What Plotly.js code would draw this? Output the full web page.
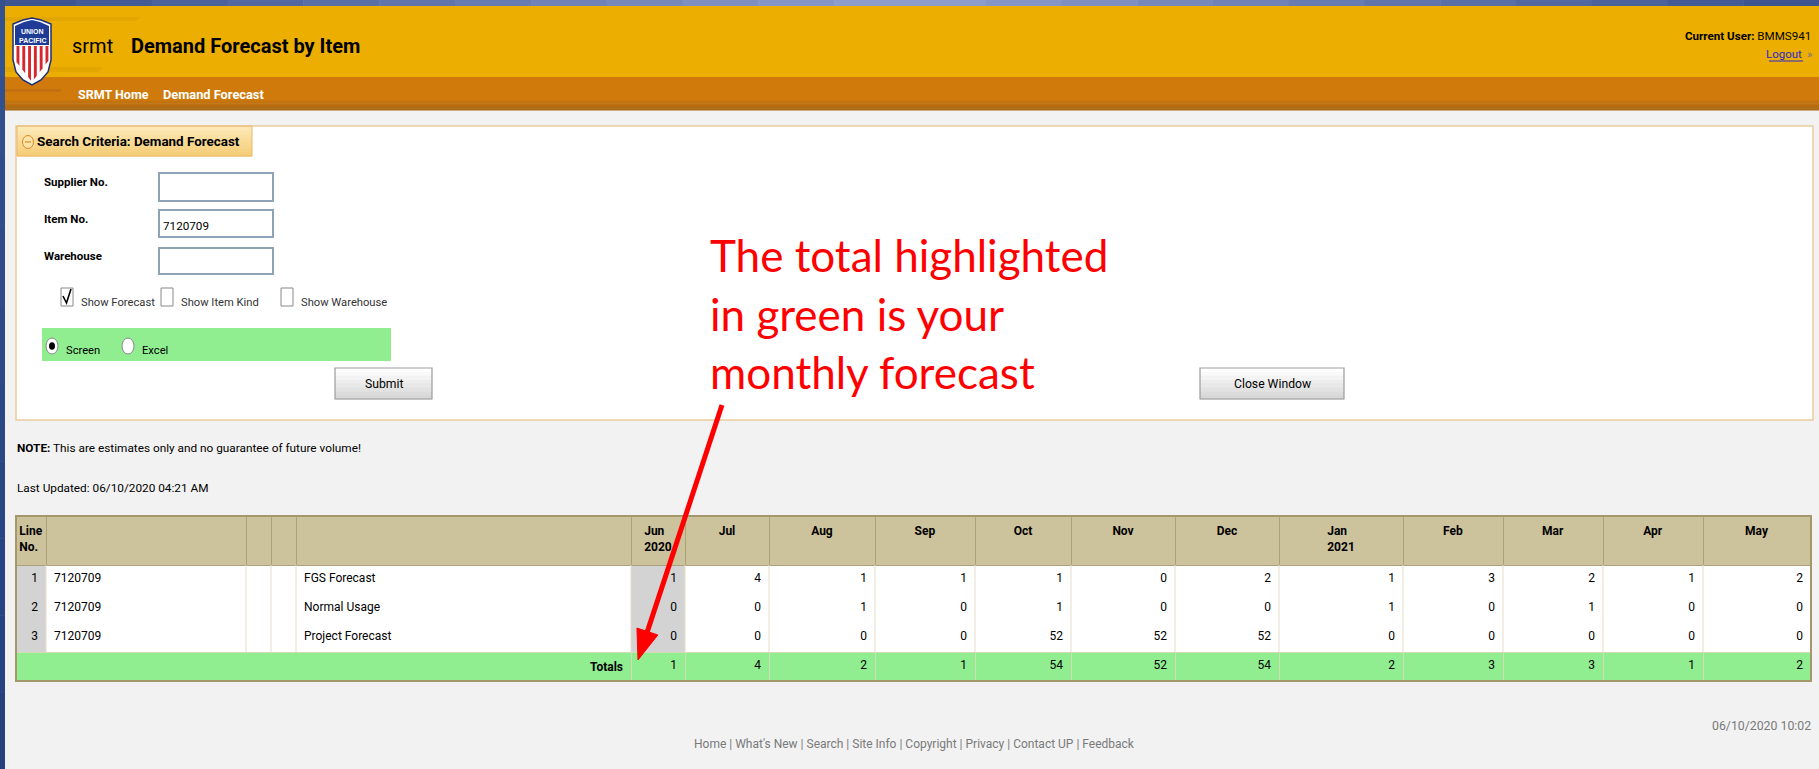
<!DOCTYPE html>
<html>
<head>
<meta charset="utf-8">
<script src="https://cdn.plot.ly/plotly-3.0.1.min.js"></script>
<style>html,body{margin:0;padding:0;background:#F2F2F2;overflow:hidden}#chart{width:1819px;height:769px}</style>
</head>
<body>
<div id="chart"></div>
<script>
// ---------------- data ----------------
const monthHeaders = ["Jun<br>2020","Jul","Aug","Sep","Oct","Nov","Dec","Jan<br>2021","Feb","Mar","Apr","May"];
const lineNos = [1, 2, 3];
const itemNos = ["7120709", "7120709", "7120709"];
const rowLabels = ["FGS Forecast", "Normal Usage", "Project Forecast"];
const fgsForecast     = [1, 4, 1, 1, 1, 0, 2, 1, 3, 2, 1, 2];
const normalUsage     = [0, 0, 1, 0, 1, 0, 0, 1, 0, 1, 0, 0];
const projectForecast = [0, 0, 0, 0, 52, 52, 52, 0, 0, 0, 0, 0];
const totals          = [1, 4, 2, 1, 54, 52, 54, 2, 3, 3, 1, 2];
const searchLabels = ["Supplier No.", "Item No.", "Warehouse"];
const searchValues = ["", "7120709", ""];
const footerLinks = ["Home", "What's New", "Search", "Site Info", "Copyright", "Privacy", "Contact UP", "Feedback"];

// ---------------- layout helpers ----------------
const W = 1819, H = 769;
const X = p => p / W, Y = p => 1 - p / H;
const FONT = "Roboto, 'Liberation Sans', sans-serif";
const shapes = [], ann = [];
function R(x0, y0, x1, y1, fill, lc, lw, layer) {
  shapes.push({type:'rect', xref:'paper', yref:'paper', x0:X(x0), x1:X(x1), y0:Y(y1), y1:Y(y0),
    fillcolor: fill || 'rgba(0,0,0,0)', line:{color: lc || 'rgba(0,0,0,0)', width: lw || 0}, layer: layer || 'below'});
}
function P(pts, fill, lc, lw, layer, closed) {
  let d = pts.map((p, i) => (i ? 'L' : 'M') + X(p[0]).toFixed(5) + ',' + Y(p[1]).toFixed(5)).join(' ');
  if (closed !== false) d += ' Z';
  shapes.push({type:'path', xref:'paper', yref:'paper', path:d, fillcolor: fill || 'rgba(0,0,0,0)',
    line:{color: lc || 'rgba(0,0,0,0)', width: lw || 0}, layer: layer || 'below'});
}
function Cc(cx, cy, rx, ry, fill, lc, lw, layer) {
  shapes.push({type:'circle', xref:'paper', yref:'paper', x0:X(cx-rx), x1:X(cx+rx), y0:Y(cy+ry), y1:Y(cy-ry),
    fillcolor: fill, line:{color: lc || 'rgba(0,0,0,0)', width: lw || 0}, layer: layer || 'below'});
}
function L(x0, y0, x1, y1, c, w, layer) {
  shapes.push({type:'line', xref:'paper', yref:'paper', x0:X(x0), x1:X(x1), y0:Y(y0), y1:Y(y1),
    line:{color:c, width:w}, layer: layer || 'below'});
}
function T(x, y, text, size, color, anchor, family) {
  ann.push({xref:'paper', yref:'paper', x:X(x), y:Y(y), text:text, showarrow:false,
    xanchor: anchor || 'left', yanchor:'middle', borderpad:0,
    font:{family: family || FONT, size:size, color: color || '#000'}});
}
function hex(c){return [1,3,5].map(i=>parseInt(c.substr(i,2),16));}
function mix(a,b,t){const A=hex(a),B=hex(b);return 'rgb('+A.map((v,i)=>Math.round(v+(B[i]-v)*t)).join(',')+')';}
function GV(x0, y0, x1, y1, c0, c1, n) { // vertical gradient
  const h = (y1 - y0) / n;
  for (let i = 0; i < n; i++) R(x0, y0 + i*h, x1, y0 + (i+1)*h + 0.5, mix(c0, c1, i/(n-1)));
}
function GH(x0, y0, x1, y1, c0, c1, n) { // horizontal gradient
  const w = (x1 - x0) / n;
  for (let i = 0; i < n; i++) R(x0 + i*w, y0, x0 + (i+1)*w + 0.5, y1, mix(c0, c1, i/(n-1)));
}

// ---------------- page chrome ----------------
GH(0, 0, 910, 6, '#3E5590', '#8C9CCB', 12);
GH(910, 0, 1819, 6, '#8C9CCB', '#3E5590', 12);
R(5, 6, 1819, 77, '#ECAE00');
P([[0,17],[140,17],[136,21],[0,21]], '#E3A500');
P([[0,67],[103,67],[99,72],[0,72]], '#E3A500');
R(5, 77, 1819, 100, '#D07A0B');
GV(5, 100, 1819, 110, '#C8750D', '#AB6812', 6);
P([[5,89],[62,89],[60,92],[5,92]], '#C27010');
GV(0, 0, 5, 769, '#34528F', '#24407E', 10);

// logo (shield)
P([[13,24],[23,20],[32,18],[41,20],[51,24],[51,60],[48,72],[41,80],[32,85],[23,80],[16,72],[13,60]], '#FFFFFF', '#1C2F78', 1.5, 'below');
P([[15,26],[24,22],[32,20],[40,22],[49,26],[49,45],[15,45]], '#1E3C96');
for (let i = 0; i < 6; i++) {
  const xa = 16.5 + i * 5.8, xb = xa + 2.9;
  const yb = x => 60 + (1 - Math.abs(x - 32) / 17) * 22;
  P([[xa,46],[xb,46],[xb,Math.min(yb(xb),82)],[xa,Math.min(yb(xa),82)]], '#D8262E');
}
T(32, 32, '<b>UNION</b>', 7, '#FFFFFF', 'center', 'Liberation Sans');
T(32, 40, '<b>PACIFIC</b>', 7, '#FFFFFF', 'center', 'Liberation Sans');

T(71, 46, 'srmt', 20, '#000');
T(130, 46, '<b>Demand Forecast by Item</b>', 20, '#000');
T(77, 94, '<b>SRMT Home</b>', 12.5, '#FFFFFF');
T(162, 94, '<b>Demand Forecast</b>', 12.8, '#FFFFFF');
T(1812, 36, '<b>Current User:</b> BMMS941', 11.6, '#000', 'right');
T(1803, 54, 'Logout', 11.5, '#2B2BC8', 'right');
T(1813, 54, '»', 11, '#7070A0', 'right');
L(1769, 61, 1803, 61, '#2B2BC8', 1.2, 'above');

// search panel
R(16, 126, 1813, 420, '#FFFFFF', '#EBCB9C', 1.5);
GV(17, 127, 252, 156, '#FCE8B4', '#F5CD78', 8);
R(17, 126, 252, 156, 'rgba(0,0,0,0)', '#E9B869', 1);
Cc(28, 142, 5.5, 6.5, '#FCE3A8', '#D98A2B', 1);
L(25, 142, 31, 142, '#D98A2B', 1.2);
T(36, 141, '<b>Search Criteria: Demand Forecast</b>', 13.4, '#000');

const labelY = [182, 219, 256], boxY = [[173,201],[210,237],[248,274]];
for (let i = 0; i < 3; i++) {
  T(43, labelY[i], '<b>' + searchLabels[i] + '</b>', 11.5, '#000');
  R(159, boxY[i][0], 273, boxY[i][1], '#FFFFFF', '#8EA3B6', 2);
  if (searchValues[i]) T(162, (boxY[i][0] + boxY[i][1]) / 2 + 2, searchValues[i], 11.7, '#000');
}
// checkboxes
[[61,73],[161,173],[281,293]].forEach(c => R(c[0], 288, c[1], 306, '#FFFFFF', '#888888', 1));
P([[63,296],[66.5,303],[71,289]], null, '#000000', 1.6, 'above', false);
T(80, 302, 'Show Forecast', 11.2, '#333');
T(180, 302, 'Show Item Kind', 11.2, '#333');
T(300, 302, 'Show Warehouse', 11.2, '#333');
// output choice
R(42, 328, 391, 361, '#90EE90');
Cc(52, 346, 6, 8, '#FFFFFF', '#888888', 1);
Cc(52, 346, 3, 3.8, '#000000');
Cc(128, 346, 6, 8, '#FFFFFF', '#888888', 1);
T(65, 350, 'Screen', 11.2, '#000');
T(141, 350, 'Excel', 11.2, '#000');
// buttons
GV(335, 368, 432, 399, '#FFFFFF', '#D6D6D6', 8);
R(335, 368, 432, 399, 'rgba(0,0,0,0)', '#9C9C9C', 1.2);
T(383.5, 384, 'Submit', 12.2, '#000', 'center');
GV(1200, 368, 1344, 399, '#FFFFFF', '#D6D6D6', 8);
R(1200, 368, 1344, 399, 'rgba(0,0,0,0)', '#9C9C9C', 1.2);
T(1272, 384, 'Close Window', 12.2, '#000', 'center');

// notes
T(16, 448, '<b>NOTE:</b> This are estimates only and no guarantee of future volume!', 11.8, '#000');
T(16, 488, 'Last Updated: 06/10/2020 04:21 AM', 11.8, '#000');

// footer
T(914, 744, footerLinks.join(' | '), 12, '#7A7A7A', 'center');
T(1812, 726, '06/10/2020 10:02', 12.3, '#7A7A7A', 'right');

// ---------------- table ----------------
const colWidths = [30, 200, 25, 25, 335, 54, 84, 106, 100, 96, 104, 104, 124, 100, 100, 100, 108];
const tx0 = 16, tx1 = 1811, tTop = 516, hH = 49, rH = 29;
const sumW = colWidths.reduce((a, b) => a + b, 0);
const edges = [tx0];
colWidths.forEach(w => edges.push(edges[edges.length - 1] + w * (tx1 - tx0) / sumW));
const TF = {family: FONT, size: 12, color: '#000'};

const headerVals = ['<b>Line<br>No.</b>', '', '', '', ''].concat(monthHeaders.map(m => '<b>' + m + '</b>'));
const headerAlign = ['center', 'left', 'left', 'left', 'left'].concat(monthHeaders.map(() => 'center'));
const monthCols = monthHeaders.map((m, j) => [fgsForecast[j], normalUsage[j], projectForecast[j]]);
const cellVals = [lineNos, itemNos, ['', '', ''], ['', '', ''], rowLabels].concat(monthCols);
const cellAlign = ['right', 'left', 'left', 'left', 'left'].concat(monthHeaders.map(() => 'right'));
const cellFill = colWidths.map((w, i) => (i === 0 || i === 5) ? '#D3D3D3' : '#FFFFFF');
const bodyBottom = tTop + hH + rH * lineNos.length;

const tableMain = {
  type: 'table',
  domain: {x: [X(tx0), X(tx1)], y: [Y(bodyBottom + 2), Y(tTop)]},
  columnwidth: colWidths,
  header: {values: headerVals, align: headerAlign, height: hH,
    fill: {color: '#CCC29B'}, line: {color: '#ADA17A', width: 1}, font: TF},
  cells: {values: cellVals, align: cellAlign, height: rH,
    fill: {color: cellFill}, line: {color: cellFill, width: 1}, font: TF}
};
const totalWidths = [colWidths.slice(0, 5).reduce((a, b) => a + b, 0)].concat(colWidths.slice(5));
const tableTotals = {
  type: 'table',
  domain: {x: [X(tx0), X(tx1)], y: [Y(bodyBottom + rH + 2), Y(bodyBottom)]},
  columnwidth: totalWidths,
  header: {values: ['<b>Totals</b>'].concat(totals.map(String)), align: 'right', height: rH,
    fill: {color: '#90EE90'}, line: {color: '#D3DCB2', width: 1}, font: TF},
  cells: {values: totalWidths.map(() => [])}
};
// body column separators
for (let i = 1; i < edges.length - 1; i++) L(edges[i], tTop + hH, edges[i], bodyBottom, '#E6DDC6', 1, 'above');
R(tx0, tTop, tx1, bodyBottom + rH, 'rgba(0,0,0,0)', '#A4976C', 2, 'above');

// ---------------- red callout ----------------
const RED = '#FF0000';
T(709, 255, 'The total highlighted', 44, RED, 'left', 'Lato');
T(709, 314, 'in green is your', 44, RED, 'left', 'Lato');
T(709, 372, 'monthly forecast', 44, RED, 'left', 'Lato');
(function arrow() {
  const tail = [722, 405], tip = [638, 660];
  const dx = tip[0] - tail[0], dy = tip[1] - tail[1], len = Math.hypot(dx, dy);
  const ux = dx / len, uy = dy / len, nx = -uy, ny = ux;
  const hl = 30, hw = 11;
  const bx = tip[0] - ux * hl, by = tip[1] - uy * hl;
  L(tail[0], tail[1], bx + ux * 2, by + uy * 2, RED, 5, 'above');
  P([[tip[0], tip[1]], [bx + nx * hw, by + ny * hw], [bx - nx * hw, by - ny * hw]], RED, RED, 1, 'above');
})();

Plotly.newPlot('chart', [tableMain, tableTotals], {
  width: W, height: H, margin: {l: 0, r: 0, t: 0, b: 0},
  paper_bgcolor: '#F2F2F2', plot_bgcolor: '#F2F2F2',
  shapes: shapes, annotations: ann, showlegend: false
}, {displayModeBar: false, staticPlot: true});
</script>
</body>
</html>
